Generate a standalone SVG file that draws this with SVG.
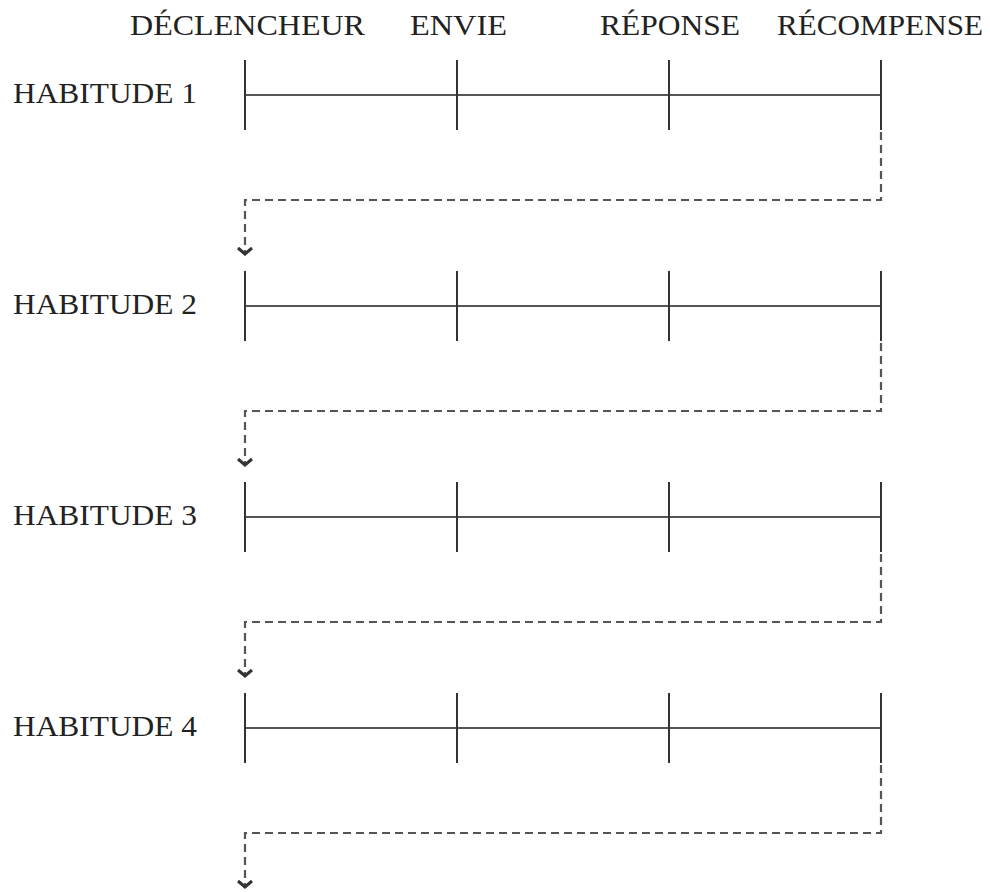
<svg xmlns="http://www.w3.org/2000/svg" width="990" height="892" viewBox="0 0 990 892">
<style>
text{font-family:"Liberation Serif","Times New Roman",serif;font-size:30px;fill:#222}
.tick{stroke:#333;stroke-width:2}
.axis{stroke:#555;stroke-width:2}
.flow{fill:none;stroke:#555;stroke-width:2.2;stroke-dasharray:8 5}
</style>
<defs>
<marker id="chev" viewBox="-10 -10 20 20" refX="0" refY="0" markerWidth="20" markerHeight="20" markerUnits="userSpaceOnUse" orient="auto">
<path d="M-6,-7 L0,0 L-6,7" fill="none" stroke="#333" stroke-width="3"/>
</marker>
</defs>
<rect width="990" height="892" fill="#fff"/>
<g id="header">
<text x="130" y="35" textLength="235" lengthAdjust="spacingAndGlyphs">DÉCLENCHEUR</text>
<text x="410" y="35" textLength="97" lengthAdjust="spacingAndGlyphs">ENVIE</text>
<text x="600" y="35" textLength="140" lengthAdjust="spacingAndGlyphs">RÉPONSE</text>
<text x="777" y="35" textLength="206" lengthAdjust="spacingAndGlyphs">RÉCOMPENSE</text>
</g>
<g id="habitude1">
<text x="13" y="103" textLength="184" lengthAdjust="spacingAndGlyphs">HABITUDE 1</text>
<line class="axis" x1="245" y1="95" x2="881" y2="95"/>
<line class="tick" x1="245" y1="60" x2="245" y2="130"/>
<line class="tick" x1="457" y1="60" x2="457" y2="130"/>
<line class="tick" x1="669" y1="60" x2="669" y2="130"/>
<line class="tick" x1="881" y1="60" x2="881" y2="130"/>
</g>
<g id="habitude2">
<text x="13" y="314" textLength="184" lengthAdjust="spacingAndGlyphs">HABITUDE 2</text>
<line class="axis" x1="245" y1="306" x2="881" y2="306"/>
<line class="tick" x1="245" y1="271" x2="245" y2="341"/>
<line class="tick" x1="457" y1="271" x2="457" y2="341"/>
<line class="tick" x1="669" y1="271" x2="669" y2="341"/>
<line class="tick" x1="881" y1="271" x2="881" y2="341"/>
</g>
<g id="habitude3">
<text x="13" y="525" textLength="184" lengthAdjust="spacingAndGlyphs">HABITUDE 3</text>
<line class="axis" x1="245" y1="517" x2="881" y2="517"/>
<line class="tick" x1="245" y1="482" x2="245" y2="552"/>
<line class="tick" x1="457" y1="482" x2="457" y2="552"/>
<line class="tick" x1="669" y1="482" x2="669" y2="552"/>
<line class="tick" x1="881" y1="482" x2="881" y2="552"/>
</g>
<g id="habitude4">
<text x="13" y="736" textLength="184" lengthAdjust="spacingAndGlyphs">HABITUDE 4</text>
<line class="axis" x1="245" y1="728" x2="881" y2="728"/>
<line class="tick" x1="245" y1="693" x2="245" y2="763"/>
<line class="tick" x1="457" y1="693" x2="457" y2="763"/>
<line class="tick" x1="669" y1="693" x2="669" y2="763"/>
<line class="tick" x1="881" y1="693" x2="881" y2="763"/>
</g>
<g id="connectors">
<path class="flow" d="M881,132 V200 H245 V254" marker-end="url(#chev)"/>
<path class="flow" d="M881,343 V411 H245 V465" marker-end="url(#chev)"/>
<path class="flow" d="M881,554 V622 H245 V676" marker-end="url(#chev)"/>
<path class="flow" d="M881,765 V833 H245 V887" marker-end="url(#chev)"/>
</g>
</svg>
